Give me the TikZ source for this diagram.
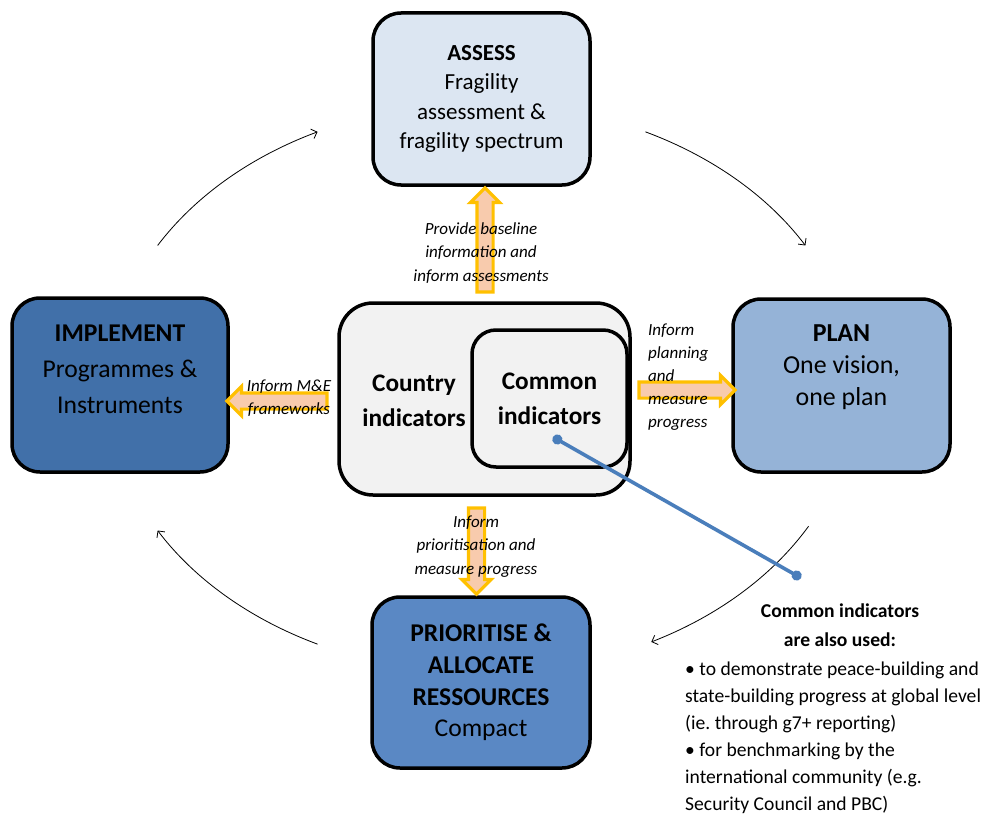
\documentclass[tikz,border=0pt]{standalone}
\usepackage{fontspec}
\setmainfont{Carlito}
\frenchspacing
\usetikzlibrary{shapes.arrows,calc,arrows.meta}
\definecolor{assessfill}{HTML}{DCE6F2}
\definecolor{planfill}{HTML}{95B3D7}
\definecolor{implfill}{HTML}{4170A9}
\definecolor{priofill}{HTML}{5A88C4}
\definecolor{centerfill}{HTML}{F2F2F2}
\definecolor{arrline}{HTML}{FFC000}
\definecolor{arrfill}{HTML}{F8CBAD}
\definecolor{linkblue}{HTML}{4A7EBB}
\begin{document}
\begin{tikzpicture}[x=1pt,y=-1pt,
  box/.style={draw=black, line width=3.5pt, rounded corners=28pt, align=center, inner sep=0pt},
  blockarr/.style={single arrow, draw=arrline, fill=arrfill, line width=3.2pt,
    inner xsep=0pt, inner ysep=6.5pt, single arrow head extend=6.5pt,
    single arrow tip angle=90},
  lbl/.style={font=\fontsize{17}{23.5}\selectfont\itshape, align=center, inner sep=0pt},
  cyc/.style={draw=black, line width=0.8pt, -{Straight Barb[length=5pt,width=10pt]}},
  link/.style={draw=linkblue, line width=3.6pt, {Circle[length=10pt]}-{Circle[length=10pt]}}
]
\useasboundingbox (0,0) rectangle (996,816);

% main boxes
\node[box, fill=assessfill, minimum width=217pt, minimum height=172pt,
  font=\fontsize{23}{29.5}\selectfont] (assess) at (481.5,99)
  {\textbf{ASSESS}\\Fragility\\assessment \&\\fragility spectrum};
\node[box, fill=implfill, minimum width=216pt, minimum height=174pt,
  font=\fontsize{25.6}{36}\selectfont] (implement) at (120,385)
  {\textbf{IMPLEMENT}\\Programmes \&\\Instruments\\[-4pt]\mbox{}};
\node[box, fill=planfill, minimum width=217pt, minimum height=173pt,
  font=\fontsize{25.9}{32}\selectfont] (plan) at (841.5,385.5)
  {\textbf{PLAN}\\One vision,\\one plan\\[9pt]\mbox{}};
\node[box, fill=priofill, minimum width=218pt, minimum height=171pt,
  font=\fontsize{25.6}{31.7}\selectfont] (prior) at (481,682.5)
  {\textbf{PRIORITISE \&}\\\textbf{ALLOCATE}\\\textbf{RESSOURCES}\\Compact};

% centre boxes
\node[box, fill=centerfill, rounded corners=34pt, minimum width=291pt, minimum height=192pt] (country) at (484.5,399) {};
\node[font=\fontsize{25.3}{35}\selectfont\bfseries, align=center, inner sep=0pt] (countrytxt) at (414,400.5) {Country\\indicators};
\node[box, fill=centerfill, rounded corners=24pt, minimum width=155pt, minimum height=137pt,
  font=\fontsize{25.3}{35}\selectfont\bfseries] (common) at (549.5,398.5) {Common\\indicators};

% block arrows
\node[blockarr, rotate=90, minimum height=104pt] (aup) at (485,244) {};
\node[blockarr, rotate=-90, minimum height=86pt] (adown) at (476.5,547) {};
\node[blockarr, rotate=180, minimum height=100pt] (aleft) at (281,401) {};
\node[blockarr, minimum height=96pt] (aright) at (683,390) {};

% arrow labels
\node[lbl] (lup) at (481,253) {Provide baseline\\information and\\inform assessments};
\node[lbl] (ldown) at (476,546.5) {Inform\\prioritisation and\\measure progress};
\node[lbl, font=\fontsize{17}{22.5}\selectfont\itshape] (lleft) at (289,398) {Inform M\&E\\frameworks};
\node[lbl, align=left, anchor=west, font=\fontsize{17}{23}\selectfont\itshape] (lright) at (648,377.5) {Inform\\planning\\and\\measure\\progress};

% cycle arcs
\coordinate (ctr) at (481.5,388);
\coordinate (tlA) at ($(ctr)+(-150:374 and 285)$);
\coordinate (trA) at ($(ctr)+(-64:374 and 285)$);
\coordinate (brA) at ($(ctr)+(29:374 and 285)$);
\coordinate (blA) at ($(ctr)+(116:374 and 285)$);
\draw[cyc] (tlA) arc[start angle=-150, end angle=-116, x radius=374, y radius=285];
\draw[cyc] (trA) arc[start angle=-64, end angle=-30, x radius=374, y radius=285];
\draw[cyc] (brA) arc[start angle=29, end angle=63, x radius=374, y radius=285];
\draw[cyc] (blA) arc[start angle=116, end angle=150, x radius=374, y radius=285];

% note
\coordinate (linkA) at (553,437);
\coordinate (linkB) at (801,578);
\draw[link] (linkA) -- (linkB);
\node[font=\fontsize{19.6}{29}\selectfont\bfseries, align=center, inner sep=0pt] (notetitle) at (840,625)
  {Common indicators\\are also used:};
\node[font=\fontsize{19.6}{27}\selectfont, align=left, anchor=west, inner sep=0pt] (notebody) at (685,737.5)
  {• to demonstrate peace-building and\\state-building progress at global level\\(ie. through g7+ reporting)\\• for benchmarking by the\\international community (e.g.\\Security Council and PBC)};
\end{tikzpicture}
\end{document}
